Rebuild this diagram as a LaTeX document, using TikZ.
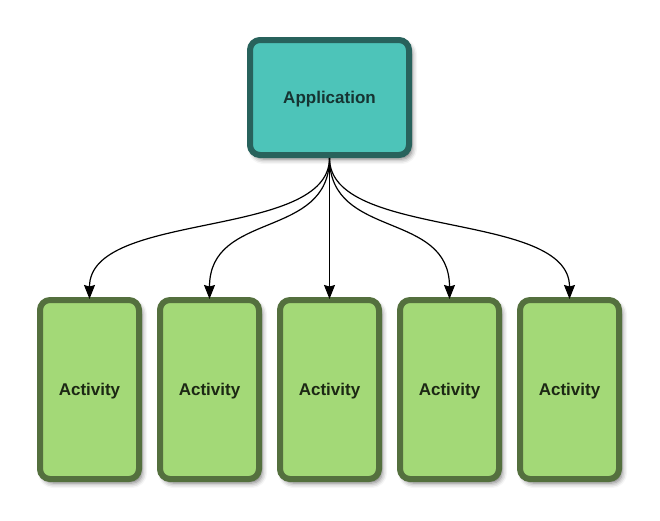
\documentclass[tikz,border=0pt]{standalone}
\usepackage{fontspec}
\setmainfont{Liberation Sans}
\usetikzlibrary{shadows.blur,arrows.meta}
\definecolor{appfill}{RGB}{77,196,185}
\definecolor{appdraw}{RGB}{40,98,92}
\definecolor{apptext}{RGB}{22,52,50}
\definecolor{actfill}{RGB}{163,217,119}
\definecolor{actdraw}{RGB}{84,112,62}
\definecolor{acttext}{RGB}{28,40,20}
\tikzset{
  boxbase/.style={rounded corners=10pt, line width=6pt, text depth=0pt,
    font=\fontsize{17}{20}\selectfont\bfseries,
    blur shadow={shadow xshift=3pt, shadow yshift=-4pt, shadow blur radius=5pt, shadow opacity=55}},
  appbox/.style={boxbase, draw=appdraw, fill=appfill, text=apptext,
    minimum width=159pt, minimum height=115pt},
  actbox/.style={boxbase, draw=actdraw, fill=actfill, text=acttext,
    minimum width=99pt, minimum height=179pt},
  link/.style={line width=1.2pt, shorten >=-2pt,
    -{Stealth[length=14pt,width=11pt,inset=1.5pt]}}
}
\begin{document}
\begin{tikzpicture}[x=1pt,y=-1pt]
\useasboundingbox (0,0) rectangle (660,520);
\node[appbox] (app) at (329.5,97.5) {Application};
\foreach \i/\x in {1/89.5,2/209.5,3/329.5,4/449.5,5/569.5}{
  \node[actbox] (a\i) at (\x,389.5) {Activity};
}
\draw[link] (app.south) .. controls (329.5,240) and (89.5,210) .. (a1.north);
\draw[link] (app.south) .. controls (329.5,240) and (209.5,210) .. (a2.north);
\draw[link] (app.south) -- (a3.north);
\draw[link] (app.south) .. controls (329.5,240) and (449.5,210) .. (a4.north);
\draw[link] (app.south) .. controls (329.5,240) and (569.5,210) .. (a5.north);
\end{tikzpicture}
\end{document}
